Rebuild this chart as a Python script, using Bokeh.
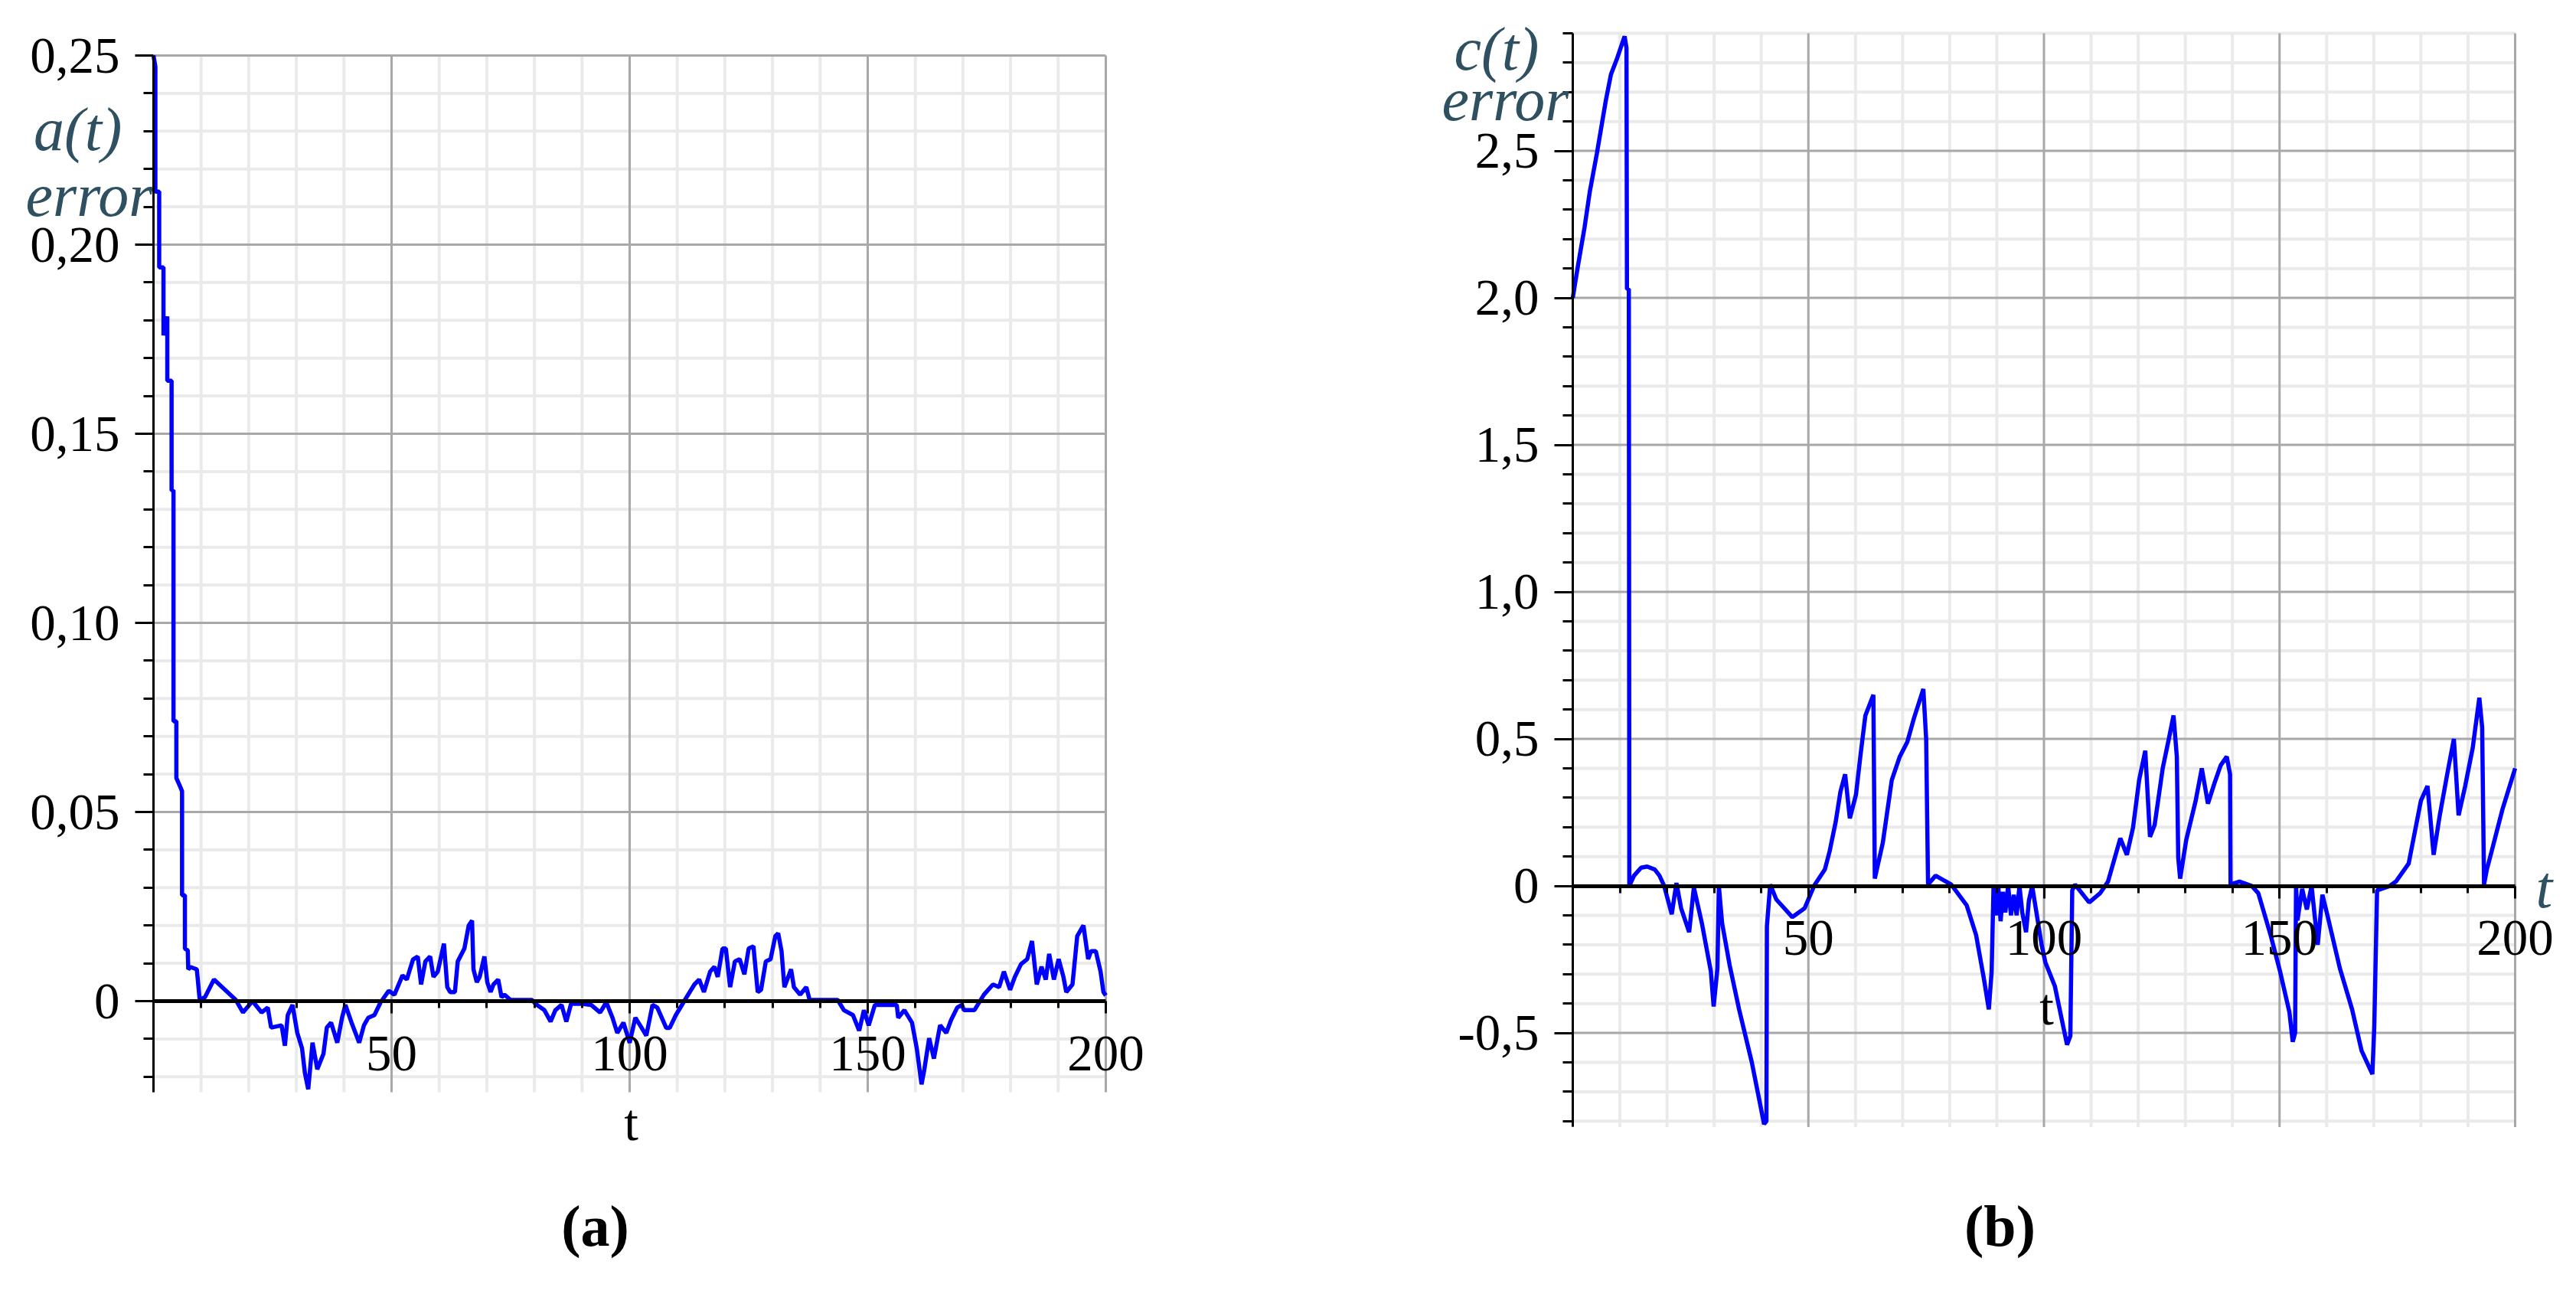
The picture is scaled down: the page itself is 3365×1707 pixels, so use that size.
from bokeh.plotting import figure
from bokeh.models import Range1d, LinearAxis, FixedTicker, Label
from bokeh.layouts import row
from bokeh.embed import file_html
from bokeh.resources import INLINE

# ---------------- data ----------------
A_T = [0, 0.4, 0.4, 1.2, 1.2, 2.1, 2.1, 2.9, 2.9, 3.8, 3.8, 4.2, 4.2, 4.8, 4.8, 5.5, 6.0, 6.0,
       6.6, 6.6, 7.2, 7.3, 7.8, 9.1, 9.7, 10.8, 12.7, 17.3, 18.8, 20.8, 22.7, 24.0, 24.7, 26.9,
       27.6, 28.2, 29.2, 30.2, 31.2, 31.8, 32.5, 33.4, 34.4, 35.7, 36.4, 37.3, 38.6, 39.6, 40.3,
       41.6, 43.2, 44.2, 45.1, 46.4, 47.7, 49.4, 50.6, 52.3, 53.2, 54.5, 55.5, 56.2, 57.1, 58.1,
       58.8, 59.7, 61.0, 61.7, 62.3, 63.3, 63.9, 65.3, 66.2, 66.9, 67.2, 67.9, 68.5, 69.5, 70.1,
       70.8, 71.4, 72.4, 73.1, 73.7, 75.0, 79.5, 80.2, 82.1, 83.4, 84.4, 85.7, 86.7, 87.7, 89.9,
       91.9, 93.8, 95.1, 96.4, 97.4, 98.7, 100.0, 101.2, 102.2, 103.5, 104.8, 105.8, 107.7, 108.4,
       109.7, 111.6, 113.6, 114.6, 115.6, 116.9, 117.8, 118.5, 119.5, 120.2, 121.1, 122.1, 123.1,
       124.1, 125.0, 126.0, 126.9, 127.6, 128.6, 129.6, 130.6, 131.2, 131.9, 132.5, 133.9, 134.5,
       135.8, 137.1, 137.8, 143.7, 145.0, 146.9, 148.2, 149.2, 150.2, 151.5, 156.1, 156.4, 157.7,
       159.3, 160.3, 161.3, 161.9, 162.9, 163.9, 165.2, 166.5, 167.5, 168.8, 169.8, 170.2, 172.4,
       174.4, 176.3, 177.6, 178.6, 179.9, 180.9, 182.2, 183.5, 184.5, 185.5, 186.5, 187.4, 188.1,
       189.1, 190.1, 191.1, 191.7, 193.0, 194.0, 195.3, 196.3, 196.9, 197.9, 198.9, 199.5, 200.0]
A_V = [0.25, 0.247, 0.214, 0.214, 0.194, 0.194, 0.176, 0.181, 0.164, 0.164, 0.135, 0.135, 0.074,
       0.074, 0.059, 0.057, 0.0555, 0.028, 0.028, 0.0139, 0.0134, 0.0084, 0.009, 0.0084, 0.0004,
       0.001, 0.0057, 0.0003, -0.003, 0.0, -0.003, -0.0017, -0.007, -0.0064, -0.0118, -0.0037,
       -0.001, -0.0084, -0.0125, -0.019, -0.0233, -0.011, -0.018, -0.0139, -0.007, -0.0057,
       -0.011, -0.0044, -0.001, -0.0057, -0.011, -0.0064, -0.0044, -0.0037, -0.0003, 0.0027,
       0.0017, 0.0068, 0.0057, 0.011, 0.0118, 0.0044, 0.0105, 0.0118, 0.0064, 0.0078, 0.0152,
       0.0037, 0.0024, 0.0024, 0.0105, 0.0139, 0.020, 0.0213, 0.0084, 0.005, 0.0064, 0.0118,
       0.005, 0.0024, 0.0044, 0.0057, 0.001, 0.0017, 0.0003, 0.0003, -0.0007, -0.0024, -0.0054,
       -0.0024, -0.001, -0.0054, -0.0007, -0.0007, -0.001, -0.003, -0.0003, -0.0044, -0.0084,
       -0.0057, -0.011, -0.0044, -0.0064, -0.0091, -0.001, -0.0017, -0.0071, -0.0071, -0.0037,
       0.0003, 0.0044, 0.0057, 0.0024, 0.0078, 0.0091, 0.0064, 0.0139, 0.0139, 0.0037, 0.0105,
       0.0111, 0.0071, 0.0139, 0.0145, 0.0024, 0.003, 0.0105, 0.0111, 0.0172, 0.0179, 0.0132,
       0.0037, 0.0084, 0.0037, 0.0017, 0.0037, 0.0003, 0.0003, -0.0024, -0.0037, -0.0078,
       -0.0024, -0.0064, -0.001, -0.001, -0.0044, -0.0024, -0.0057, -0.0125, -0.022, -0.018,
       -0.0098, -0.0152, -0.0064, -0.0084, -0.005, -0.0017, -0.001, -0.0024, -0.0024, 0.0017,
       0.0044, 0.0037, 0.0078, 0.003, 0.0064, 0.0098, 0.0111, 0.0159, 0.0044, 0.0091, 0.0057,
       0.0125, 0.0057, 0.0111, 0.0064, 0.0024, 0.0044, 0.0172, 0.020, 0.0111, 0.0132, 0.0132,
       0.0078, 0.0024, 0.0015]

B_T = [0, 1.0, 2.5, 3.6, 5.1, 7.0, 8.1, 9.3, 11.0, 11.4, 11.5, 11.9, 12.0, 13.0, 14.5, 15.8, 17.4,
       18.4, 19.4, 21.0, 22.0, 23.0, 24.7, 25.7, 27.4, 29.3, 29.9, 30.7, 31.0, 31.7, 33.3, 35.3,
       38.0, 40.6, 41.1, 41.2, 41.9, 43.2, 46.6, 49.2, 51.2, 53.5, 54.5, 55.8, 56.8, 57.8, 58.8,
       60.1, 61.1, 62.1, 63.8, 64.1, 65.8, 67.7, 69.4, 71.0, 72.4, 74.4, 75.0, 75.4, 77.0, 80.3,
       83.6, 85.6, 87.3, 88.3, 88.9, 89.3, 89.8, 90.3, 90.8, 91.3, 91.8, 92.4, 93.0, 93.6, 94.2,
       94.8, 95.4, 96.2, 96.8, 97.5, 99.5, 100.3, 102.3, 104.9, 105.6, 106.0, 106.6, 109.6, 111.9,
       113.6, 116.2, 117.6, 118.9, 120.2, 121.5, 122.5, 123.5, 125.2, 126.5, 127.5, 128.2, 128.5,
       128.9, 130.2, 132.2, 133.5, 134.8, 136.2, 137.5, 138.8, 139.5, 139.6, 141.5, 144.1, 145.5,
       148.1, 150.1, 152.1, 152.8, 153.3, 153.5, 153.8, 154.8, 155.8, 156.8, 158.1, 159.1, 160.1,
       162.8, 165.4, 167.4, 169.7, 170.1, 170.7, 173.4, 174.7, 177.4, 180.0, 181.4, 182.7, 184.0,
       185.7, 187.0, 188.0, 189.4, 191.0, 192.4, 193.0, 193.4, 194.0, 195.0, 197.3, 200.0]
B_V = [2.0, 2.1, 2.24, 2.36, 2.49, 2.67, 2.76, 2.81, 2.89, 2.85, 2.03, 2.03, 0.0, 0.035, 0.062,
       0.066, 0.056, 0.035, 0.0, -0.096, 0.01, -0.076, -0.157, -0.005, -0.127, -0.29, -0.41, -0.28,
       0.0, -0.127, -0.27, -0.42, -0.60, -0.81, -0.80, -0.137, 0.005, -0.046, -0.106, -0.076, 0.0,
       0.056, 0.117, 0.218, 0.32, 0.38, 0.23, 0.31, 0.45, 0.58, 0.65, 0.025, 0.147, 0.36, 0.44,
       0.49, 0.57, 0.67, 0.50, 0.005, 0.035, 0.005, -0.066, -0.167, -0.32, -0.42, -0.29, 0.0,
       -0.10, 0.0, -0.12, -0.02, -0.09, 0.0, -0.10, -0.03, -0.10, 0.0, -0.09, -0.157, -0.05, 0.0,
       -0.20, -0.26, -0.34, -0.54, -0.51, -0.015, 0.005, -0.056, -0.025, 0.015, 0.162, 0.106,
       0.198, 0.36, 0.46, 0.167, 0.208, 0.40, 0.50, 0.58, 0.44, 0.096, 0.025, 0.157, 0.29, 0.40,
       0.28, 0.35, 0.41, 0.44, 0.38, 0.005, 0.015, 0.0, -0.025, -0.167, -0.29, -0.43, -0.53, -0.50,
       0.005, -0.117, -0.01, -0.08, 0.0, -0.20, -0.03, -0.096, -0.28, -0.42, -0.56, -0.64, -0.48,
       -0.015, 0.0, 0.015, 0.076, 0.29, 0.34, 0.106, 0.24, 0.39, 0.50, 0.24, 0.34, 0.47, 0.64,
       0.54, 0.005, 0.056, 0.117, 0.26, 0.40]

# ticks and tick labels
X_LABELED = [50, 100, 150, 200]
X_GRID_MAJOR = [0, 50, 100, 150, 200]
X_MINOR = [10, 20, 30, 40, 60, 70, 80, 90, 110, 120, 130, 140, 160, 170, 180, 190]
A_Y_TICKS = [0, 0.05, 0.10, 0.15, 0.20, 0.25]
A_Y_LABELS = ["0", "0,05", "0,10", "0,15", "0,20", "0,25"]
A_Y_MINOR = [round(-0.02 + 0.01 * i, 2) for i in range(27) if (i - 2) % 5 != 0]
A_Y_VIEW = (-0.0241, 0.25)
B_Y_TICKS = [-0.5, 0, 0.5, 1.0, 1.5, 2.0, 2.5]
B_Y_LABELS = ["-0,5", "0", "0,5", "1,0", "1,5", "2,0", "2,5"]
B_Y_MINOR = [round(-0.8 + 0.1 * i, 1) for i in range(38) if (i - 8) % 5 != 0]
B_Y_VIEW = (-0.82, 2.9)
T_VIEW = (0, 200)

# ---------------- style ----------------
SERIF = "Liberation Serif"
BLUE = "#0000FF"
MAJ = "#A8A8A8"
MIN = "#EAEAEA"
LABEL_COL = "#2E5060"


def make_panel(fig_w, fig_h, x0_px, y0_px, pxu_x, pxu_y, yview,
               yticks, ylabels, yminor, t, v):
    """x0_px, y0_px: canvas position of (t=0, value=0); pxu_*: pixels per unit."""
    xr = Range1d(-x0_px / pxu_x, (fig_w - x0_px) / pxu_x)
    yr = Range1d((y0_px - fig_h) / pxu_y, y0_px / pxu_y)
    p = figure(width=fig_w, height=fig_h, x_range=xr, y_range=yr, title=None,
               x_axis_location=None, y_axis_location=None,
               toolbar_location=None, output_backend="svg")
    p.min_border = 0
    p.outline_line_color = None
    p.background_fill_color = "white"
    p.border_fill_color = "white"
    p.xgrid.visible = False
    p.ygrid.visible = False

    ymin, ymax = yview
    t0, t1 = T_VIEW
    # minor grid
    p.segment(x0=X_MINOR, x1=X_MINOR, y0=[ymin] * len(X_MINOR), y1=[ymax] * len(X_MINOR),
              line_color=MIN, line_width=4)
    p.segment(x0=[t0] * len(yminor), x1=[t1] * len(yminor), y0=yminor, y1=yminor,
              line_color=MIN, line_width=4)
    # major grid
    p.segment(x0=X_GRID_MAJOR, x1=X_GRID_MAJOR, y0=[ymin] * len(X_GRID_MAJOR),
              y1=[ymax] * len(X_GRID_MAJOR), line_color=MAJ, line_width=3)
    p.segment(x0=[t0] * len(yticks), x1=[t1] * len(yticks), y0=yticks, y1=yticks,
              line_color=MAJ, line_width=3)

    yax = LinearAxis(fixed_location=0, bounds=yview,
                     ticker=FixedTicker(ticks=yticks, minor_ticks=yminor),
                     major_label_overrides=dict(zip(yticks, ylabels)),
                     axis_line_width=3, axis_line_color="black",
                     major_tick_in=0, major_tick_out=24, minor_tick_in=0, minor_tick_out=13,
                     major_tick_line_width=3, minor_tick_line_width=3,
                     major_label_standoff=20, major_label_text_font=SERIF,
                     major_label_text_font_size="67px", major_label_text_color="black")
    p.add_layout(yax, "left")

    xax = LinearAxis(fixed_location=0, bounds=T_VIEW,
                     ticker=FixedTicker(ticks=X_LABELED, minor_ticks=X_MINOR),
                     axis_line_width=5, axis_line_color="black",
                     major_tick_in=0, major_tick_out=16, minor_tick_in=0, minor_tick_out=9,
                     major_tick_line_width=3, minor_tick_line_width=3,
                     major_label_standoff=30, major_label_text_font=SERIF,
                     major_label_text_font_size="67px", major_label_text_color="black")
    p.add_layout(xax, "below")

    p.line(t, v, line_color=BLUE, line_width=5.5)
    return p


def add_text(p, x, y, text, size, align="left", style="normal", color="black"):
    p.add_layout(Label(x=x, y=y, text=text, text_align=align, text_baseline="alphabetic",
                       text_font=SERIF, text_font_size=size, text_font_style=style,
                       text_color=color))


# panel (a): figure origin at page (8, 8); t=0 at page x 208, value 0 at page y 1315
FA_W, FA_H = 1683, 1691
PA = dict(x0=200, y0=1307, ux=6.22, uy=4940.0)
pa = make_panel(FA_W, FA_H, PA["x0"], PA["y0"], PA["ux"], PA["uy"], A_Y_VIEW,
                A_Y_TICKS, A_Y_LABELS, A_Y_MINOR, A_T, A_V)
ax_ = lambda px: (px - 8 - PA["x0"]) / PA["ux"]
ay_ = lambda py: (PA["y0"] - (py - 8)) / PA["uy"]
add_text(pa, ax_(167), ay_(176), "a(t)", "80px", "right", "italic", LABEL_COL)
add_text(pa, ax_(207), ay_(262), "error", "80px", "right", "italic", LABEL_COL)
add_text(pa, ax_(832), ay_(1473), "t", "67px", "center")
add_text(pa, ax_(785), ay_(1608), "(a)", "76px", "center", "bold")

# panel (b): figure origin at page (1691, 8); t=0 at page x 2062, value 0 at page y 1164.6
FB_W, FB_H = 1666, 1691
PB = dict(x0=371, y0=1156.6, ux=6.155, uy=384.0)
pb = make_panel(FB_W, FB_H, PB["x0"], PB["y0"], PB["ux"], PB["uy"], B_Y_VIEW,
                B_Y_TICKS, B_Y_LABELS, B_Y_MINOR, B_T, B_V)
bx_ = lambda px: (px - 1691 - PB["x0"]) / PB["ux"]
by_ = lambda py: (PB["y0"] - (py - 8)) / PB["uy"]
add_text(pb, bx_(2018), by_(71), "c(t)", "80px", "right", "italic", LABEL_COL)
add_text(pb, bx_(2057), by_(137), "error", "80px", "right", "italic", LABEL_COL)
add_text(pb, bx_(2681), by_(1322), "t", "67px", "center")
add_text(pb, bx_(3320), by_(1166), "t", "78px", "left", "italic", LABEL_COL)
add_text(pb, bx_(2620), by_(1608), "(b)", "76px", "center", "bold")

layout = row(pa, pb)
open("out.html", "w").write(file_html(layout, INLINE))
